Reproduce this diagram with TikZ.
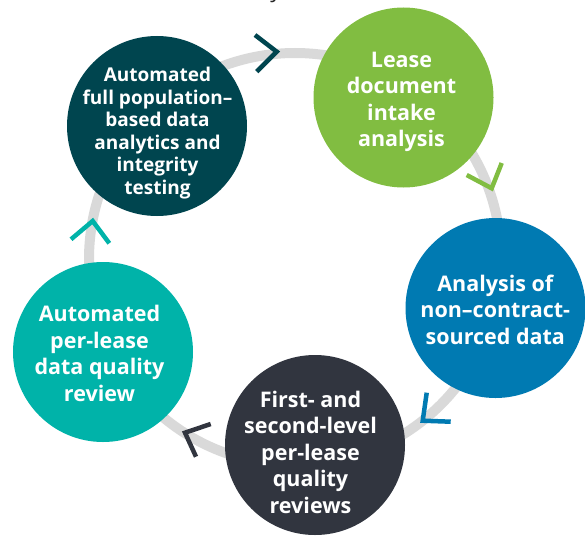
\documentclass[tikz,border=0pt]{standalone}
\usepackage{fontspec}
\setmainfont{Open Sans}
\definecolor{cDark}{HTML}{00454F}
\definecolor{cGreen}{HTML}{81BD41}
\definecolor{cBlue}{HTML}{007AB2}
\definecolor{cSlate}{HTML}{31353F}
\definecolor{cTeal}{HTML}{00B3A9}
\definecolor{cRing}{HTML}{D9D9D9}
\newcommand\bigtxt[1]{\fontsize{21.5}{26.5}\selectfont\begin{tabular}[t]{@{}c@{}}#1\end{tabular}}
\newcommand\smalltxt[1]{\fontsize{19}{22.5}\selectfont\begin{tabular}[t]{@{}c@{}}#1\end{tabular}}
\tikzset{
  stage/.style={circle, minimum size=180pt, inner sep=0pt, draw=none},
  lbl/.style={anchor=base, inner sep=0pt, text=white, font=\bfseries},
  chev/.style={line width=4.5pt, line join=miter, miter limit=10},
  ring/.style={line width=10pt, draw=cRing}
}
\begin{document}
\begin{tikzpicture}[x=1pt, y=-1pt]
\useasboundingbox (0,0) rectangle (585,535);
% title fragment
\node[anchor=base, inner sep=0pt, font=\fontsize{22}{26}\selectfont, text=black!85] (titley) at (276,-2.5) {y};
% ring
\coordinate (ringc) at (295,259);
\draw[ring] (ringc) circle[radius=206];
% stages
\node[stage, fill=cDark]  (full)   at (157,126) {};
\node[stage, fill=cGreen] (lease)  at (403.5,97.5) {};
\node[stage, fill=cBlue]  (noncon) at (495.5,308) {};
\node[stage, fill=cSlate] (levels) at (315,445) {};
\node[stage, fill=cTeal]  (perl)   at (103,352) {};
% chevrons
\draw[chev, cDark]  (255,35) -- (276.7,51.7) -- (256.7,71.7);
\draw[chev, cGreen] (466.7,175) -- (491.7,188.3) -- (501.7,163);
\draw[chev, cBlue]  (426.7,392.7) -- (422.7,420.7) -- (450.7,421.7);
\draw[chev, cSlate] (210.7,424) -- (185,432.7) -- (196,456.7);
\draw[chev, cTeal]  (71,239.3) -- (92.7,221) -- (109.3,243.3);
% labels
\node[lbl] (full-t) at (157.5,81.8) {\smalltxt{Automated\\full population–\\based data\\analytics and\\integrity\\testing}};
\node[lbl] (lease-t) at (401.5,67.3) {\bigtxt{Lease\\document\\intake\\analysis}};
\node[lbl] (noncon-t) at (495.3,291) {\bigtxt{Analysis of\\non–contract-\\sourced data}};
\node[lbl] (levels-t) at (310.5,407) {\bigtxt{First- and\\second-level\\per-lease\\quality\\reviews}};
\node[lbl] (perl-t) at (99.5,321.6) {\bigtxt{Automated\\per-lease\\data quality\\review}};
\end{tikzpicture}
\end{document}
